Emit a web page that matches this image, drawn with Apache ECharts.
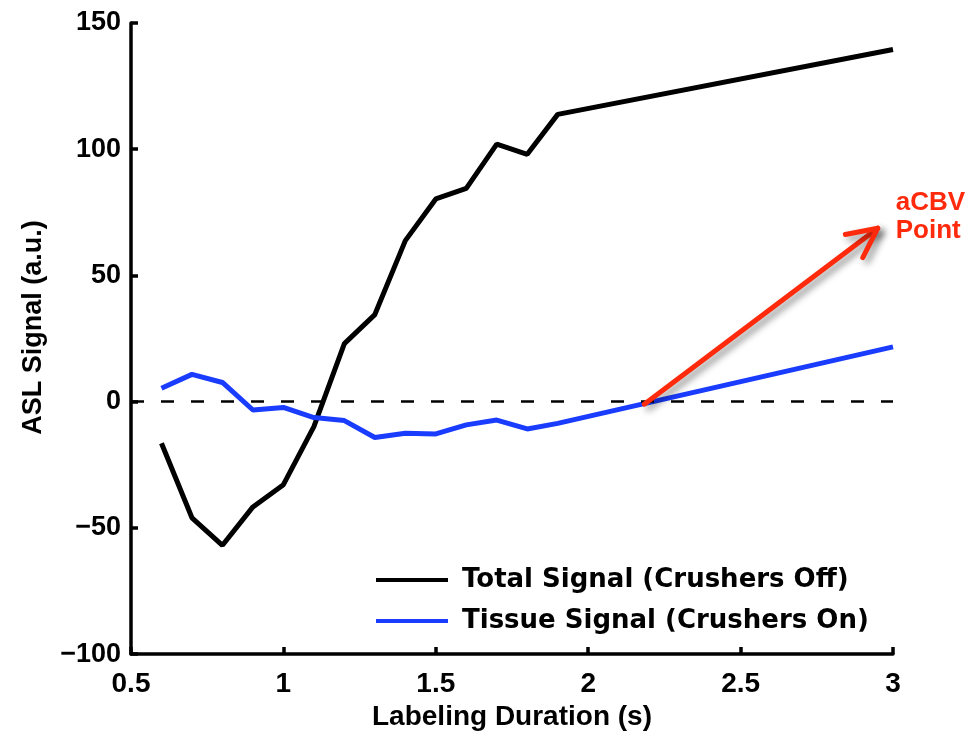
<!DOCTYPE html>
<html>
<head>
<meta charset="utf-8">
<title>ASL Signal vs Labeling Duration</title>
<script src="https://cdn.jsdelivr.net/npm/echarts@6/dist/echarts.min.js"></script>
<style>
  html, body { margin: 0; padding: 0; background: #ffffff; }
  #chart { width: 969px; height: 736px; }
</style>
</head>
<body>
<div id="chart"></div>
<script>
// Labeling durations (s)
const durations = [0.6, 0.7, 0.8, 0.9, 1.0, 1.1, 1.2, 1.3, 1.4, 1.5, 1.6, 1.7, 1.8, 1.9, 3.0];
// ASL signal with crushers off (a.u.)
const totalSignal = [-16.5, -46, -56.9, -41.7, -32.9, -9.9, 23, 34.5, 63.8, 80.3, 84.5, 102, 98, 113.8, 139.5];
// ASL signal with crushers on (a.u.)
const tissueSignal = [5.3, 10.8, 7.6, -3.3, -2.3, -6.3, -7.5, -14.2, -12.5, -12.8, -9.2, -7.3, -10.8, -8.6, 21.7];
// Annotation arrow: start (x, y) and tip (x, y) in data units
const arrowStart = [2.184, -1];
const arrowTip = [2.95, 68.7];
const arrowText = 'aCBV\nPoint';

const seriesNames = ['Total Signal (Crushers Off)', 'Tissue Signal (Crushers On)'];
const xTicks = { min: 0.5, max: 3, step: 0.5 };
const yTicks = { min: -100, max: 150, step: 50 };

const RED = '#ff2a0c';
const BLUE = '#1a3cff';

const pair = (xs, ys) => xs.map((x, i) => [x, ys[i]]);

const chart = echarts.init(document.getElementById('chart'), null, { renderer: 'canvas' });

const axisFont = 'Liberation Sans, Arial, Helvetica, sans-serif';

chart.setOption({
  animation: false,
  backgroundColor: '#ffffff',
  grid: { left: 131, right: 76, top: 23, bottom: 79, containLabel: false },
  xAxis: {
    type: 'value',
    min: xTicks.min, max: xTicks.max, interval: xTicks.step,
    name: 'Labeling Duration (s)',
    nameLocation: 'middle',
    nameGap: 48,
    nameTextStyle: { fontFamily: axisFont, fontWeight: 'bold', fontSize: 28, color: '#000' },
    axisLine: { show: true, onZero: false, lineStyle: { color: '#000', width: 3.5 } },
    axisTick: { show: true, inside: true, length: 7, lineStyle: { color: '#000', width: 3.5 } },
    axisLabel: { margin: 16, fontFamily: axisFont, fontWeight: 'bold', fontSize: 28, color: '#000',
                 formatter: v => String(v) },
    splitLine: { show: false }
  },
  yAxis: {
    type: 'value',
    min: yTicks.min, max: yTicks.max, interval: yTicks.step,
    name: 'ASL Signal (a.u.)',
    nameLocation: 'middle',
    nameGap: 84,
    nameTextStyle: { fontFamily: axisFont, fontWeight: 'bold', fontSize: 27, color: '#000', padding: [0, 0, 0, 22] },
    axisLine: { show: true, onZero: false, lineStyle: { color: '#000', width: 3.5 } },
    axisTick: { show: true, inside: true, length: 7, lineStyle: { color: '#000', width: 3.5 } },
    axisLabel: { margin: 10, fontFamily: axisFont, fontWeight: 'bold', fontSize: 27, color: '#000',
                 formatter: v => String(v).replace('-', '\u2212') },
    splitLine: { show: false }
  },
  legend: {
    data: seriesNames,
    orient: 'vertical',
    left: 376,
    top: 565,
    padding: 0,
    icon: 'rect',
    itemWidth: 72,
    itemHeight: 4,
    itemGap: 11,
    selectedMode: false,
    textStyle: { fontFamily: 'DejaVu Sans, sans-serif', fontWeight: 'bold', fontSize: 26,
                 color: '#000', lineHeight: 30, padding: [0, 0, 0, 9] }
  },
  series: [
    {
      name: seriesNames[0],
      type: 'line',
      data: pair(durations, totalSignal),
      symbol: 'none',
      lineStyle: { color: '#000', width: 5 },
      itemStyle: { color: '#000' },
      z: 3,
      markLine: {
        silent: true,
        symbol: 'none',
        label: { show: false },
        lineStyle: { color: '#000', width: 2.5, type: [13, 17] },
        data: [{ yAxis: 0 }]
      }
    },
    {
      name: seriesNames[1],
      type: 'line',
      data: pair(durations, tissueSignal),
      symbol: 'none',
      lineStyle: { color: BLUE, width: 5 },
      itemStyle: { color: BLUE },
      z: 3
    },
    {
      // open-headed arrow with a soft drop shadow and its caption
      name: 'arrow',
      type: 'custom',
      clip: false,
      z: 5,
      data: [[arrowStart[0], arrowStart[1], arrowTip[0], arrowTip[1]]],
      renderItem: function (params, api) {
        const p0 = api.coord([api.value(0), api.value(1)]);
        const p1 = api.coord([api.value(2), api.value(3)]);
        const ang = Math.atan2(p0[1] - p1[1], p0[0] - p1[0]);
        const headLen = 33;
        const spread = 26 * Math.PI / 180;
        const h1 = [p1[0] + headLen * Math.cos(ang + spread), p1[1] + headLen * Math.sin(ang + spread)];
        const h2 = [p1[0] + headLen * Math.cos(ang - spread), p1[1] + headLen * Math.sin(ang - spread)];
        const stroke = {
          stroke: RED, lineWidth: 5, lineCap: 'round', lineJoin: 'round', fill: null,
          shadowColor: 'rgba(0,0,0,0.45)', shadowBlur: 7, shadowOffsetX: 4, shadowOffsetY: 4
        };
        return {
          type: 'group',
          children: [
            { type: 'line', shape: { x1: p0[0], y1: p0[1], x2: p1[0], y2: p1[1] }, style: stroke },
            { type: 'polyline', shape: { points: [h1, p1, h2] }, style: stroke },
            {
              type: 'text',
              x: p1[0] + 18,
              y: p1[1] - 11,
              style: {
                text: arrowText,
                fill: RED,
                font: 'bold 26px "Liberation Sans", Arial, sans-serif',
                lineHeight: 28,
                align: 'left',
                verticalAlign: 'middle'
              }
            }
          ]
        };
      }
    }
  ]
});
</script>
</body>
</html>
